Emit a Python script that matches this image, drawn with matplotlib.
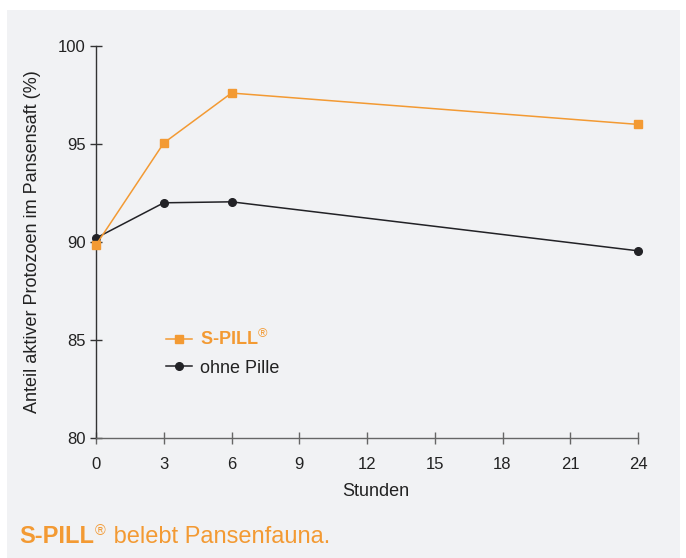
import matplotlib
matplotlib.use("Agg")
import matplotlib.pyplot as plt
from matplotlib.patches import Rectangle

plt.rcParams['font.family'] = ['Liberation Sans', 'DejaVu Sans']
plt.rcParams['mathtext.fontset'] = 'custom'
plt.rcParams['mathtext.rm'] = 'Liberation Sans'

hours = [0, 3, 6, 24]
spill = [89.85, 95.05, 97.6, 96.0]
ohne = [90.2, 92.0, 92.05, 89.55]
xticks = [0, 3, 6, 9, 12, 15, 18, 21, 24]
yticks = [80, 85, 90, 95, 100]

ORANGE = '#f39a33'
DARK = '#222226'
BG = '#f1f2f4'

fig = plt.figure(figsize=(6.86, 5.58), dpi=100, facecolor='white')
fig.patches.append(Rectangle((7/686, 0), (680-7)/686, 1 - 10/558,
                             transform=fig.transFigure, facecolor=BG,
                             edgecolor='none', zorder=-10))

ax = fig.add_axes([96/686, 1-438/558, (638-96)/686, (438-46)/558])
ax.set_facecolor('none')

ax.plot(hours, ohne, color=DARK, lw=1.1, marker='o', ms=5.5,
        label='ohne Pille', zorder=3, clip_on=False)
ax.plot(hours, spill, color=ORANGE, lw=1.1, marker='s', ms=5.5,
        label='S-PILL$^{®}$', zorder=4, clip_on=False)

ax.set_xlim(0, 24)
ax.set_ylim(80, 100)
ax.set_xticks(xticks)
ax.set_yticks(yticks)
for s in ['top', 'right']:
    ax.spines[s].set_visible(False)
ax.spines['left'].set_color('#333333')
ax.spines['bottom'].set_color('#666666')
ax.spines['left'].set_linewidth(1.0)
ax.spines['bottom'].set_linewidth(1.0)
ax.tick_params(axis='x', direction='inout', length=9, width=1.0, color='#666666',
               labelsize=12, labelcolor='#222222', pad=9)
ax.tick_params(axis='y', direction='inout', length=9, width=1.0, color='#333333',
               labelsize=12, labelcolor='#222222', pad=3)

ax.set_xlabel('Stunden', fontsize=13, color='#222222')
ax.xaxis.set_label_coords(0.517, -0.115)
ax.set_ylabel('Anteil aktiver Protozoen im Pansensaft (%)', fontsize=13,
              color='#222222', labelpad=12)

handles, labels = ax.get_legend_handles_labels()
leg = ax.legend(handles[::-1], labels[::-1], loc='upper left',
                bbox_to_anchor=(0.10, 0.32), frameon=False, fontsize=13,
                handlelength=1.4, handletextpad=0.45, labelspacing=0.6)
t0, t1 = leg.get_texts()
t0.set_color(ORANGE)
t0.set_fontweight('bold')
t1.set_color('#222222')

# caption
fig.canvas.draw()
r = fig.canvas.get_renderer()
cx, cy = 19, 558 - 543
cap1 = fig.text(cx/686, cy/558, 'S-PILL', fontsize=17, fontweight='bold',
                color=ORANGE, ha='left', va='baseline')
w1 = cap1.get_window_extent(r).width
cap2 = fig.text((cx + w1 + 1)/686, (cy + 8)/558, '®', fontsize=10.5,
                color=ORANGE, ha='left', va='baseline')
w2 = cap2.get_window_extent(r).width
fig.text((cx + w1 + w2 + 2)/686, cy/558, ' belebt Pansenfauna.', fontsize=17,
         color=ORANGE, ha='left', va='baseline')

fig.savefig('out.png', dpi=100, facecolor='white')
